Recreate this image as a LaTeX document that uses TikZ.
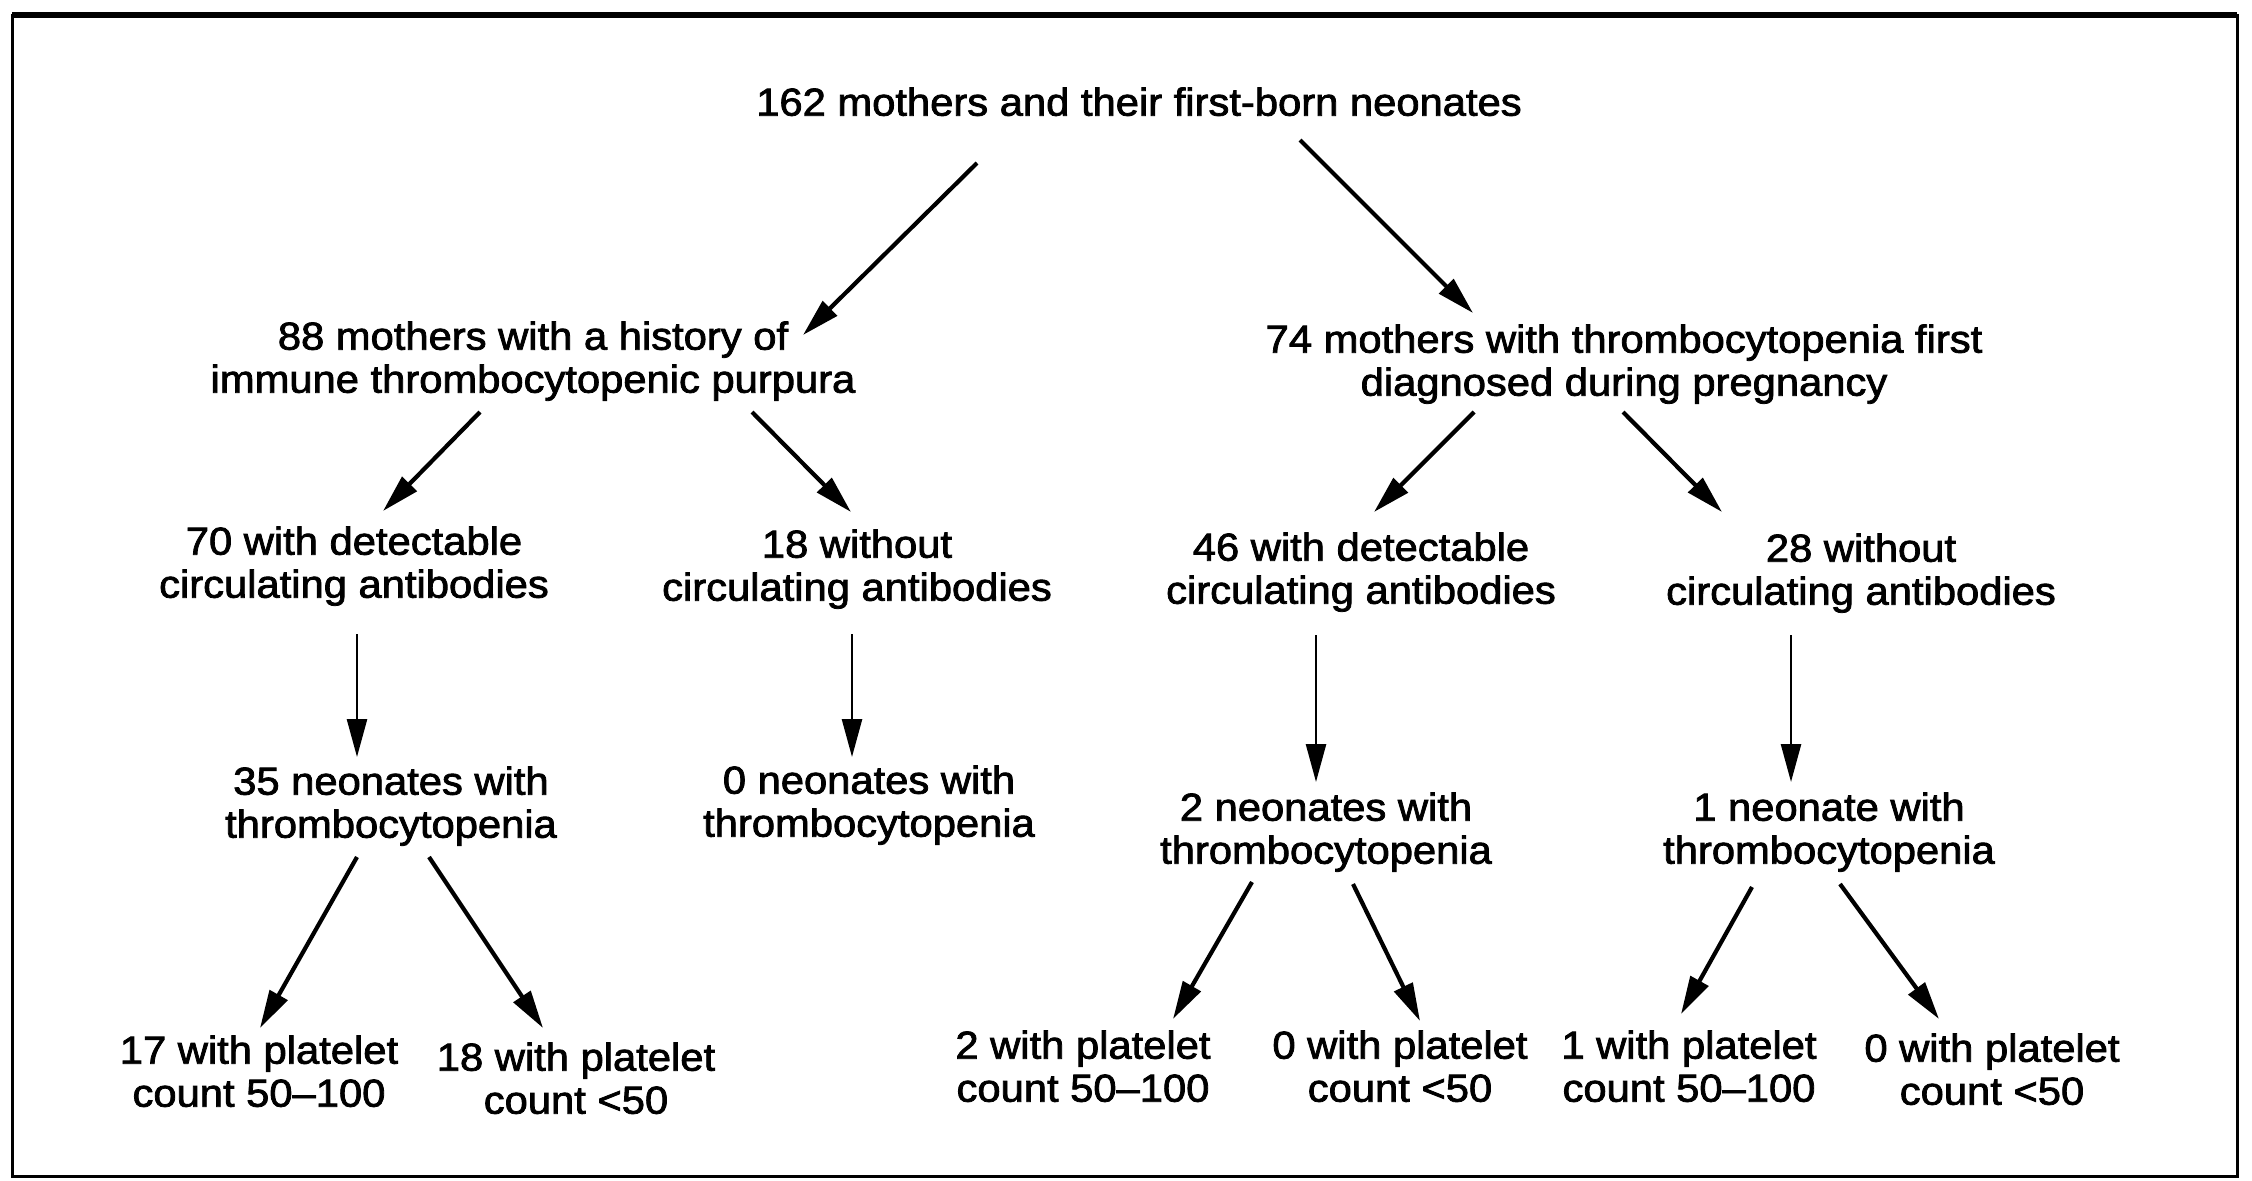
\documentclass[tikz,border=0pt]{standalone}
\usepackage{fontspec}
\setmainfont{Liberation Sans}[FakeStretch=1.07,FakeBold=2]
\usetikzlibrary{arrows.meta}
\begin{document}
\begin{tikzpicture}[x=0.5pt,y=-0.5pt,
  lbl/.style={align=center,inner sep=0pt,anchor=north,font=\fontsize{19.5}{21.5}\selectfont},
  diag/.style={line width=2.1pt,-{Triangle[length=19pt,width=10pt]}},
  vert/.style={line width=1.3pt,-{Triangle[length=19pt,width=10pt]}}]
\useasboundingbox (0,0) rectangle (2252,1180);
\fill[white] (0,0) rectangle (2252,1180);
\draw[line width=1.5pt] (12,15) rectangle (2237,1176);
\draw[line width=3pt] (12,15) -- (2237,15);

\node[lbl] (top) at (1139,87) {162 mothers and their first-born neonates};
\node[lbl] (m88) at (533,321) {88 mothers with a history of\\immune thrombocytopenic purpura};
\node[lbl] (m74) at (1624,324) {74 mothers with thrombocytopenia first\\diagnosed during pregnancy};
\node[lbl] (a70) at (354,526) {70 with detectable\\circulating antibodies};
\node[lbl] (w18) at (857,529) {18 without\\circulating antibodies};
\node[lbl] (a46) at (1361,532) {46 with detectable\\circulating antibodies};
\node[lbl] (w28) at (1861,533) {28 without\\circulating antibodies};
\node[lbl] (n35) at (391,766) {35 neonates with\\thrombocytopenia};
\node[lbl] (n0) at (869,765) {0 neonates with\\thrombocytopenia};
\node[lbl] (n2) at (1326,792) {2 neonates with\\thrombocytopenia};
\node[lbl] (n1) at (1829,792) {1 neonate with\\thrombocytopenia};
\node[lbl] (p17) at (259,1035) {17 with platelet\\count 50–100};
\node[lbl] (p18) at (576,1042) {18 with platelet\\count <50};
\node[lbl] (p2) at (1083,1030) {2 with platelet\\count 50–100};
\node[lbl] (p0a) at (1400,1030) {0 with platelet\\count <50};
\node[lbl] (p1) at (1689,1030) {1 with platelet\\count 50–100};
\node[lbl] (p0b) at (1992,1033) {0 with platelet\\count <50};

\draw[diag] ([shift={(-162,76)}]top.north) -- ([shift={(270,14)}]m88.north);
\draw[diag] ([shift={(161,53)}]top.north) -- ([shift={(-151,-11)}]m74.north);
\draw[diag] ([shift={(-53,91)}]m88.north) -- ([shift={(29,-15)}]a70.north);
\draw[diag] ([shift={(219,91)}]m88.north) -- ([shift={(-6,-17)}]w18.north);
\draw[diag] ([shift={(-150,88)}]m74.north) -- ([shift={(13,-20)}]a46.north);
\draw[diag] ([shift={(-1,88)}]m74.north) -- ([shift={(-139,-21)}]w28.north);
\draw[vert] ([shift={(3,108)}]a70.north) -- ([shift={(-34,-9)}]n35.north);
\draw[vert] ([shift={(-5,105)}]w18.north) -- ([shift={(-17,-8)}]n0.north);
\draw[vert] ([shift={(-45,103)}]a46.north) -- ([shift={(-10,-10)}]n2.north);
\draw[vert] ([shift={(-70,102)}]w28.north) -- ([shift={(-38,-10)}]n1.north);
\draw[diag] ([shift={(-34,91)}]n35.north) -- ([shift={(1,-7)}]p17.north);
\draw[diag] ([shift={(38,91)}]n35.north) -- ([shift={(-33,-14)}]p18.north);
\draw[diag] ([shift={(-74,90)}]n2.north) -- ([shift={(90,-11)}]p2.north);
\draw[diag] ([shift={(27,92)}]n2.north) -- ([shift={(20,-9)}]p0a.north);
\draw[diag] ([shift={(-77,95)}]n1.north) -- ([shift={(-8,-16)}]p1.north);
\draw[diag] ([shift={(11,92)}]n1.north) -- ([shift={(-53,-14)}]p0b.north);
\end{tikzpicture}
\end{document}
